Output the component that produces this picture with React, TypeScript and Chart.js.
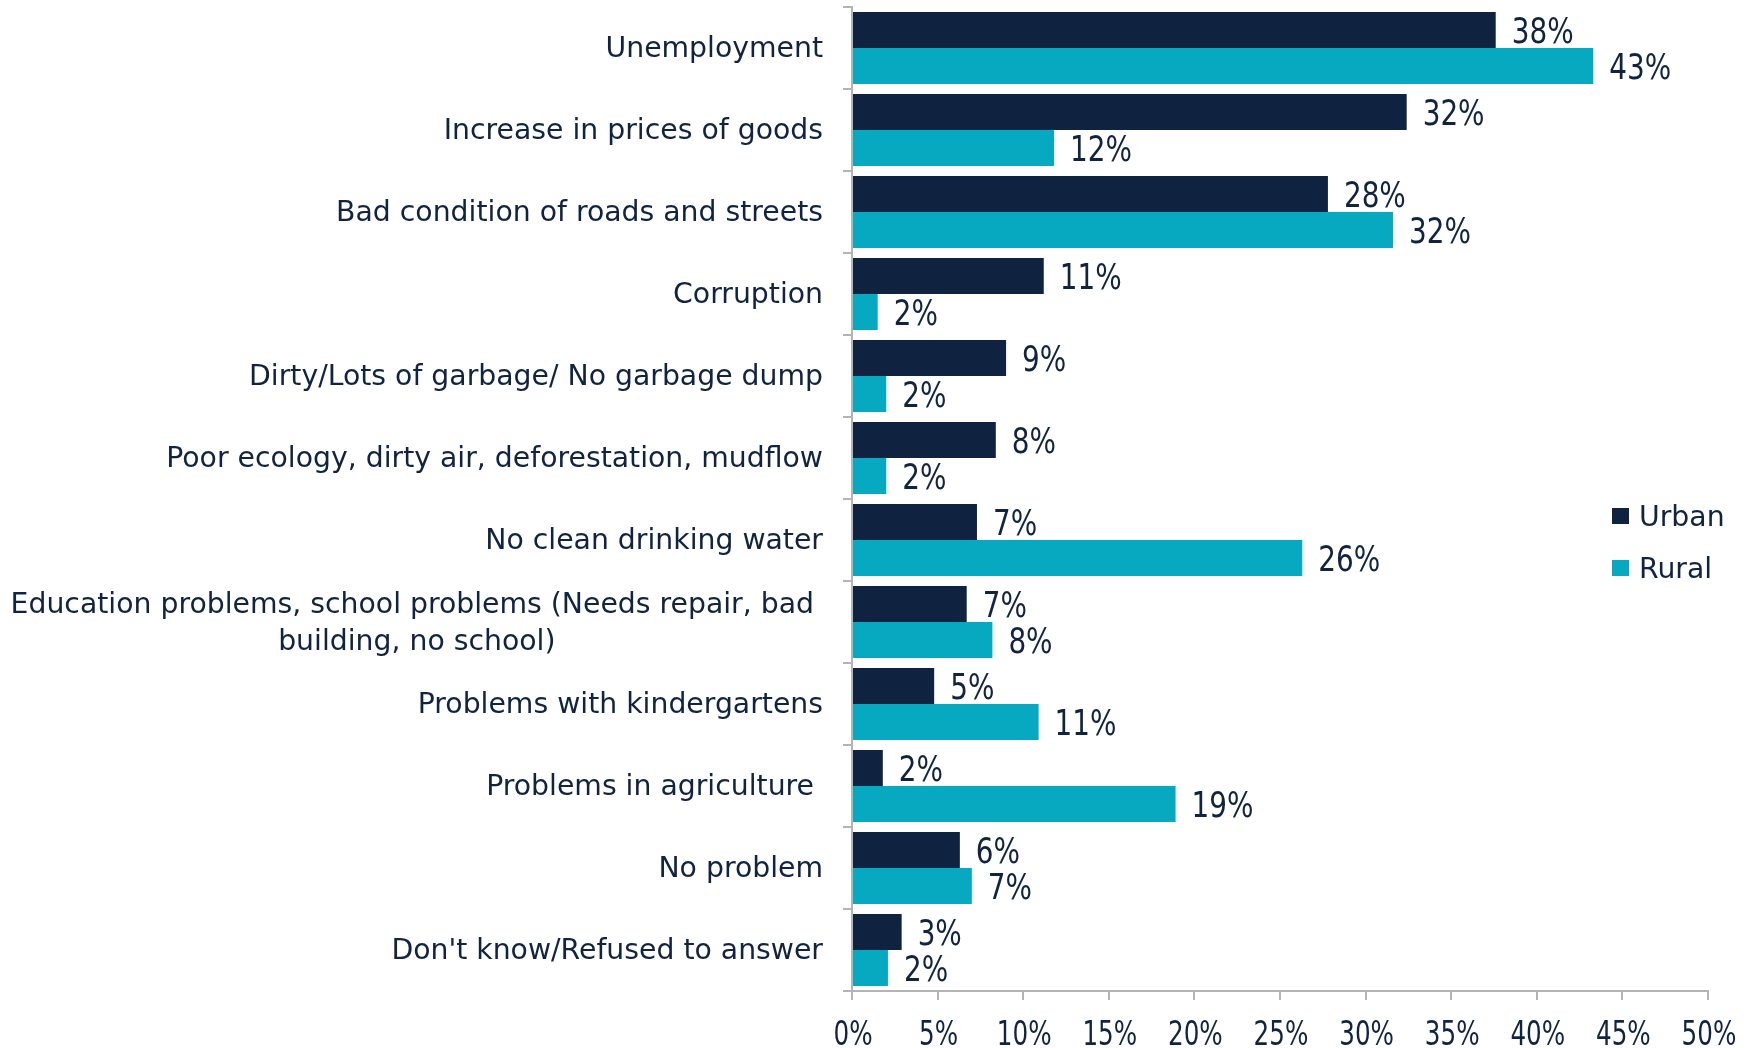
import React, { useEffect, useRef } from 'react';
import { Chart, registerables } from 'chart.js';

Chart.register(...registerables);

const categories: (string | string[])[] = [
  'Unemployment',
  'Increase in prices of goods',
  'Bad condition of roads and streets',
  'Corruption',
  'Dirty/Lots of garbage/ No garbage dump',
  'Poor ecology, dirty air, deforestation, mudflow',
  'No clean drinking water',
  ['Education problems, school problems (Needs repair, bad ', 'building, no school)'],
  'Problems with kindergartens',
  'Problems in agriculture ',
  'No problem',
  "Don't know/Refused to answer",
];

const seriesNames = ['Urban', 'Rural'];
const urbanValues = [37.6, 32.4, 27.8, 11.2, 9.0, 8.4, 7.3, 6.7, 4.8, 1.8, 6.3, 2.9];
const ruralValues = [43.3, 11.8, 31.6, 1.5, 2.0, 2.0, 26.3, 8.2, 10.9, 18.9, 7.0, 2.1];
const seriesColors = ['#0f2340', '#07a9c1'];

const xMin = 0;
const xMax = 50;
const xStep = 5;

const TEXT = '#10233f';
const AXIS = '#b4b4b4';
const CAT_FONT = '28.3px "DejaVu Sans"';
const NUM_FAMILY = '"DejaVu Sans Condensed", "DejaVu Sans", sans-serif';

const drawSqueezed = (ctx: any, text: string, x: number, y: number, sx: number, align: string) => {
  ctx.save();
  ctx.translate(x, y);
  ctx.scale(sx, 1);
  ctx.textAlign = align;
  ctx.fillText(text, 0, 0);
  ctx.restore();
};

const categoryLabelsPlugin = {
  id: 'categoryLabels',
  afterDraw(chart: any) {
    const ctx = chart.ctx;
    const y = chart.scales.y;
    const right = 823;
    ctx.save();
    ctx.font = CAT_FONT;
    ctx.fillStyle = TEXT;
    ctx.textBaseline = 'alphabetic';
    const lineH = 37;
    categories.forEach((lab, i) => {
      const lines = Array.isArray(lab) ? lab : [lab];
      const cy = y.getPixelForValue(i);
      const widths = lines.map((l) => ctx.measureText(l).width);
      const maxW = Math.max(...widths);
      const center = right - maxW / 2;
      lines.forEach((l, j) => {
        const ly = cy + (j - (lines.length - 1) / 2) * lineH + 9;
        ctx.textAlign = 'center';
        ctx.fillText(l, center, ly);
      });
    });
    ctx.restore();
  },
};

const xTickLabelsPlugin = {
  id: 'xTickLabels',
  afterDraw(chart: any) {
    const ctx = chart.ctx;
    const x = chart.scales.x;
    ctx.save();
    ctx.font = '33px ' + NUM_FAMILY;
    ctx.fillStyle = TEXT;
    ctx.textBaseline = 'alphabetic';
    x.ticks.forEach((t: any) => {
      const px = x.getPixelForValue(t.value);
      drawSqueezed(ctx, t.value + '%', px + 1, 1045, 0.83, 'center');
    });
    ctx.restore();
  },
};

const valueLabelsPlugin = {
  id: 'valueLabels',
  afterDatasetsDraw(chart: any) {
    const ctx = chart.ctx;
    ctx.save();
    ctx.font = '36px ' + NUM_FAMILY;
    ctx.fillStyle = TEXT;
    ctx.textBaseline = 'alphabetic';
    chart.data.datasets.forEach((ds: any, di: number) => {
      const meta = chart.getDatasetMeta(di);
      meta.data.forEach((el: any, i: number) => {
        const v = ds.data[i];
        drawSqueezed(ctx, Math.round(v) + '%', el.x + 16, el.y + 13, 0.86, 'left');
      });
    });
    ctx.restore();
  },
};

const legendPlugin = {
  id: 'customLegend',
  afterDraw(chart: any) {
    const ctx = chart.ctx;
    ctx.save();
    ctx.font = CAT_FONT;
    ctx.textAlign = 'left';
    ctx.textBaseline = 'alphabetic';
    const ys = [516, 568];
    chart.data.datasets.forEach((ds: any, di: number) => {
      const cy = ys[di];
      ctx.fillStyle = ds.backgroundColor;
      ctx.fillRect(1612, cy - 8, 17, 16);
      ctx.fillStyle = TEXT;
      ctx.fillText(ds.label, 1639, cy + 10);
    });
    ctx.restore();
  },
};

export default function App() {
  const ref = useRef<HTMLCanvasElement | null>(null);
  useEffect(() => {
    if (!ref.current) return;
    const chart = new Chart(ref.current, {
      type: 'bar',
      data: {
        labels: categories.map((c) => (Array.isArray(c) ? c.join(' ') : c)),
        datasets: [
          { label: seriesNames[0], data: urbanValues, backgroundColor: seriesColors[0] },
          { label: seriesNames[1], data: ruralValues, backgroundColor: seriesColors[1] },
        ],
      },
      options: {
        indexAxis: 'y',
        responsive: false,
        animation: false,
        events: [],
        layout: { padding: { left: 0, right: 46, top: 7, bottom: 0 } },
        datasets: { bar: { categoryPercentage: 0.878, barPercentage: 1.0 } },
        plugins: {
          legend: { display: false },
          tooltip: { enabled: false },
          title: { display: false },
        },
        scales: {
          x: {
            type: 'linear',
            min: xMin,
            max: xMax,
            ticks: {
              stepSize: xStep,
              display: false,
            },
            grid: { display: true, drawOnChartArea: false, drawTicks: true, tickLength: 9, color: AXIS, lineWidth: 2 },
            border: { display: true, color: AXIS, width: 2 },
            afterFit: (s: any) => {
              s.height = 57;
            },
          },
          y: {
            type: 'category',
            ticks: { display: false },
            grid: { display: true, offset: true, drawOnChartArea: false, drawTicks: true, tickLength: 9, color: AXIS, lineWidth: 2 },
            border: { display: true, color: AXIS, width: 2 },
            afterFit: (s: any) => {
              s.width = 852;
            },
          },
        },
      },
      plugins: [categoryLabelsPlugin, valueLabelsPlugin, xTickLabelsPlugin, legendPlugin],
    });
    return () => chart.destroy();
  }, []);
  return (
    <canvas
      ref={ref}
      width={1754}
      height={1048}
      style={{ position: 'fixed', left: 0, top: 0, width: 1754, height: 1048, display: 'block' }}
    />
  );
}
